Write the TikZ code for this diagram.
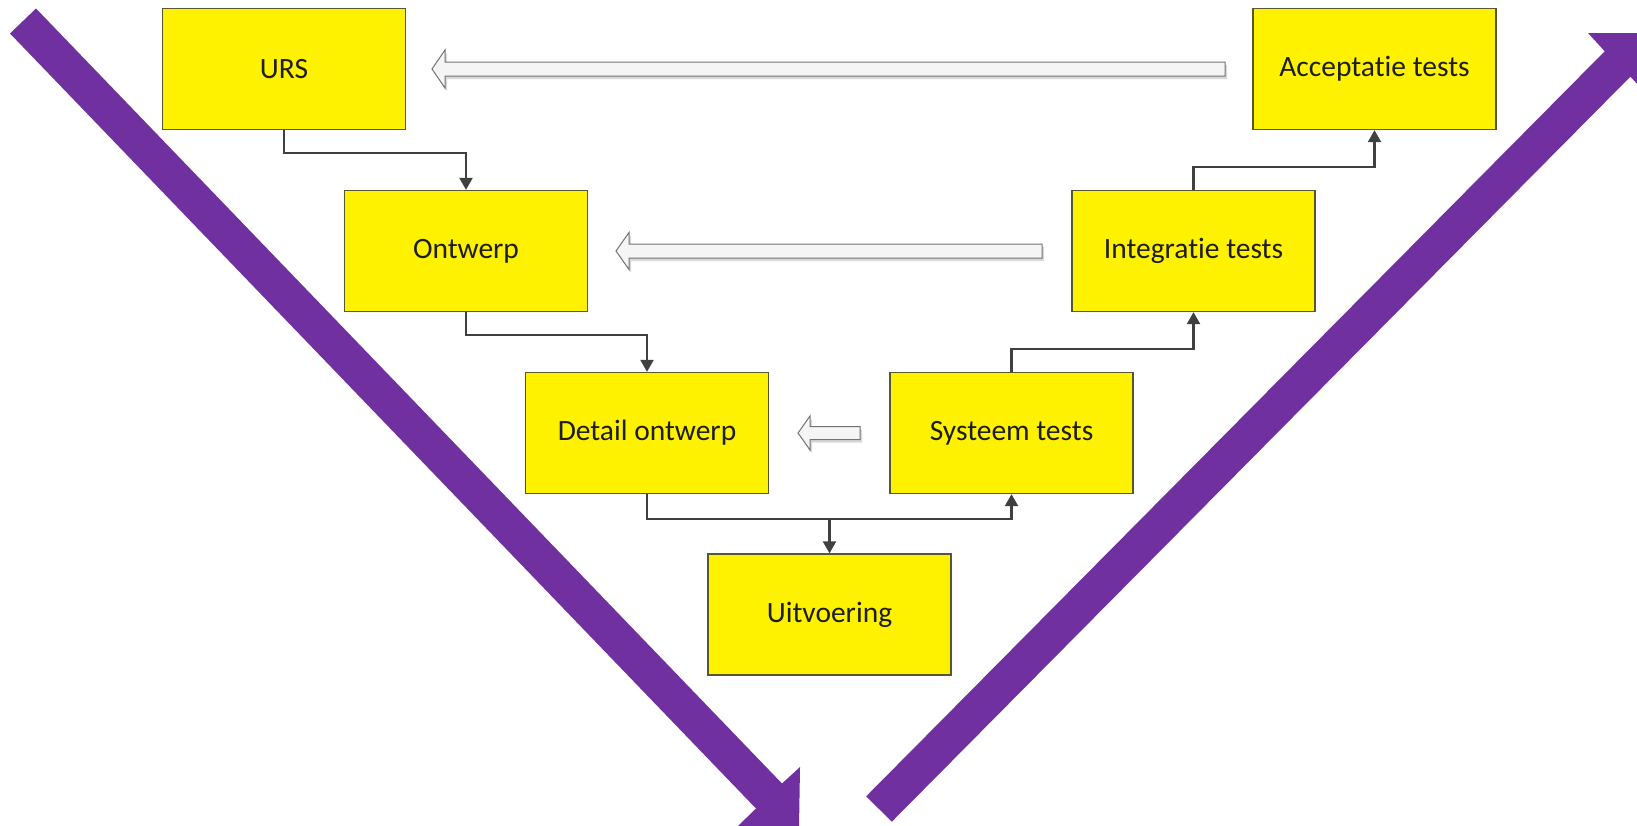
\documentclass[tikz,border=0pt]{standalone}
\usepackage{fontspec}
\setmainfont[Ligatures=NoCommon]{Carlito}
\usetikzlibrary{arrows.meta,calc}
\definecolor{vpurple}{RGB}{112,48,160}
\definecolor{boxline}{RGB}{88,88,48}
\definecolor{connline}{RGB}{64,64,64}
\definecolor{txt}{RGB}{30,30,24}
\newcommand\blockarr[6]{%
  \fill[black!15] (#1+2,#4+3) -- (#2+2,#4-#5+3) -- (#2+2,#4-#6+3) -- (#3+2,#4-#6+3) -- (#3+2,#4+#6+3) -- (#2+2,#4+#6+3) -- (#2+2,#4+#5+3) -- cycle;
  \draw[draw=black!55, fill=black!4, line width=1pt, line join=miter] (#1,#4) -- (#2,#4-#5) -- (#2,#4-#6) -- (#3,#4-#6) -- (#3,#4+#6) -- (#2,#4+#6) -- (#2,#4+#5) -- cycle;}
\begin{document}
\begin{tikzpicture}[x=1pt,y=-1pt,
  box/.style={draw=boxline, line width=1.3pt, fill=yellow, minimum width=243pt, minimum height=121pt, inner sep=0pt, font=\fontsize{29.5}{35}\selectfont, text=txt},
  conn/.style={draw=connline, line width=2.2pt, -{Triangle[length=12pt,width=13pt]}}]
\clip (0,0) rectangle (1637,825);
\fill[white] (0,0) rectangle (1637,825);
% purple arrows
\fill[vpurple] (36.0,8.5) -- (782.0,783.5) -- (800,767) -- (799,827) -- (738,826) -- (756.0,808.5) -- (10.0,33.5) -- cycle;
\fill[vpurple] (866.2,796.3) -- (1604.7,51.3) -- (1588,33) -- (1648,33) -- (1648,95) -- (1630.3,76.7) -- (891.8,821.7) -- cycle;
% boxes
\node[box] (URS) at (284,69) {URS};
\node[box] (Ontwerp) at (466,251) {Ontwerp};
\node[box] (Detail) at (647,433) {Detail ontwerp};
\node[box] (Uitvoering) at (829.5,614.5) {Uitvoering};
\node[box] (Systeem) at (1011.5,433) {Systeem tests};
\node[box] (Integratie) at (1193.5,251) {Integratie tests};
\node[box] (Acceptatie) at (1374.5,69) {Acceptatie tests};
% connectors
\draw[conn] (URS.south) -- ++(0,23) -| (Ontwerp.north);
\draw[conn] (Ontwerp.south) -- ++(0,23) -| (Detail.north);
\draw[conn] (Detail.south) -- ++(0,25) -| (Systeem.south);
\draw[conn] (Detail.south) -- ++(0,25) -| (Uitvoering.north);
\draw[conn] (Systeem.north) -- ++(0,-23) -| (Integratie.south);
\draw[conn] (Integratie.north) -- ++(0,-23) -| (Acceptatie.south);
% block arrows
\blockarr{432}{445}{1225}{69}{19}{7}
\blockarr{616}{629}{1042}{251}{18.5}{7}
\blockarr{798}{810}{860}{433}{17}{6.5}
\end{tikzpicture}
\end{document}
